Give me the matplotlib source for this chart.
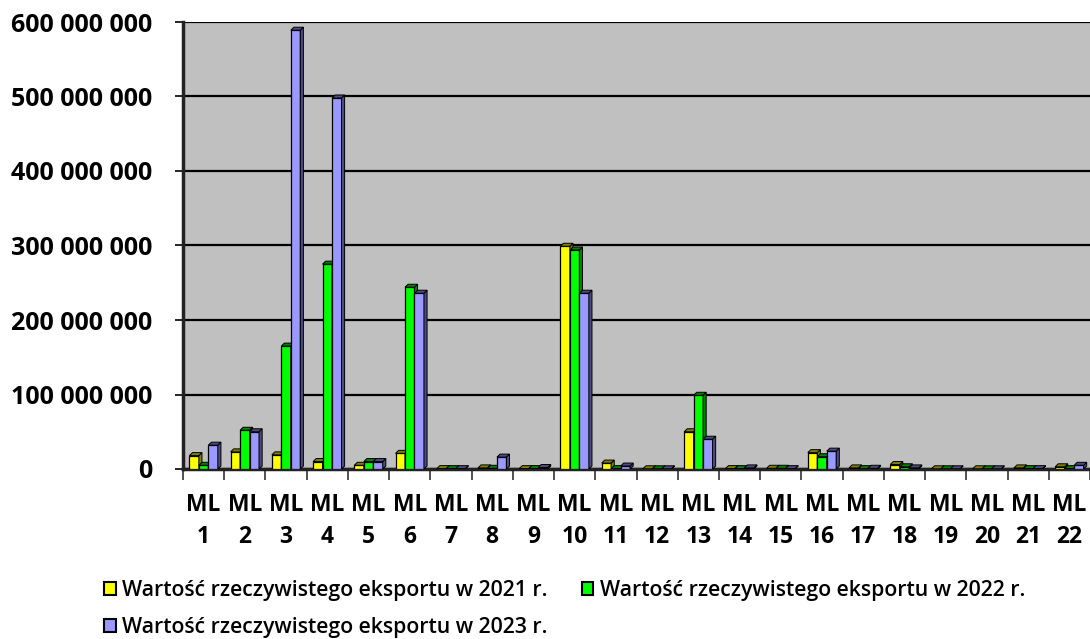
import matplotlib
matplotlib.use("Agg")
import matplotlib.pyplot as plt
from matplotlib.patches import Polygon, Patch
from matplotlib.ticker import FuncFormatter, FixedLocator
import numpy as np

categories = [f"ML\n{i}" for i in range(1, 23)]
v2021 = [18e6, 23e6, 19e6, 10e6, 5e6, 21e6, 0.5e6, 1.5e6, 0.5e6, 299e6, 8e6,
         0.3e6, 50e6, 0.5e6, 1e6, 22e6, 1.5e6, 6e6, 0.3e6, 0.3e6, 1.5e6, 3e6]
v2022 = [5e6, 52e6, 165e6, 275e6, 10e6, 244e6, 0.5e6, 1e6, 0.5e6, 294e6, 0.5e6,
         0.3e6, 99e6, 0.5e6, 1e6, 16.5e6, 0.5e6, 3e6, 0.3e6, 0.3e6, 0.5e6, 0.5e6]
v2023 = [32e6, 50e6, 589e6, 498e6, 10e6, 236e6, 0.5e6, 16e6, 2e6, 236e6, 4e6,
         0.3e6, 40e6, 1.5e6, 0.5e6, 24e6, 1e6, 1.5e6, 0.3e6, 0.3e6, 0.5e6, 5e6]
series_labels = ["Wartość rzeczywistego eksportu w 2021 r.",
                 "Wartość rzeczywistego eksportu w 2022 r.",
                 "Wartość rzeczywistego eksportu w 2023 r."]
yticks = [0, 100e6, 200e6, 300e6, 400e6, 500e6, 600e6]

colors = ["#FFFF00", "#00FF00", "#9999FF"]
dark = ["#808000", "#008000", "#4C4C80"]
FONT = "Open Sans"

fig = plt.figure(figsize=(10.9, 6.39), dpi=100)
ax = fig.add_axes([183/1090, 170/639, 1 - 183/1090, (469-22)/639])
ax.set_facecolor("#C0C0C0")

n = len(categories)
x = np.arange(n)
w = 0.23
dx = 0.075
dy = 4.0e6
for k, vals in enumerate([v2021, v2022, v2023]):
    pos = x + (k - 1) * w
    bars = ax.bar(pos, vals, width=w, color=colors[k], edgecolor="black",
                  linewidth=0.9, zorder=3)
    for b in bars:
        x0 = b.get_x(); bw = b.get_width(); h = b.get_height()
        top = Polygon([(x0, h), (x0 + dx, h + dy), (x0 + bw + dx, h + dy), (x0 + bw, h)],
                      closed=True, facecolor=dark[k], edgecolor="black", linewidth=0.7, zorder=3)
        side = Polygon([(x0 + bw, 0), (x0 + bw + dx, dy), (x0 + bw + dx, h + dy), (x0 + bw, h)],
                       closed=True, facecolor=dark[k], edgecolor="black", linewidth=0.7, zorder=3)
        ax.add_patch(side); ax.add_patch(top)

ax.set_xlim(-0.5, n - 0.5)
ax.set_ylim(0, 600e6)
ax.set_yticks(yticks)
ax.yaxis.set_major_formatter(FuncFormatter(lambda v, p: f"{int(v):,}".replace(",", " ")))
ax.grid(axis="y", color="black", linewidth=1.6, zorder=1)
ax.set_axisbelow(True)

ax.xaxis.set_major_locator(FixedLocator(np.arange(-0.5, n, 1.0)))
ax.xaxis.set_minor_locator(FixedLocator(x))
ax.set_xticklabels([], minor=False)
ax.set_xticklabels(categories, minor=True)
ax.tick_params(axis="x", which="major", length=8, width=1.2, color="#333333")
ax.tick_params(axis="x", which="minor", length=0, pad=17)
ax.tick_params(axis="y", length=6, width=1.2, pad=16)

for lab in ax.get_xticklabels(minor=True):
    lab.set_fontfamily(FONT); lab.set_fontweight("bold"); lab.set_fontsize(16.5)
    lab.set_linespacing(1.45)
for lab in ax.get_yticklabels():
    lab.set_fontfamily(FONT); lab.set_fontweight("bold"); lab.set_fontsize(18)

for s in ["top", "right"]:
    ax.spines[s].set_visible(False)
ax.spines["left"].set_linewidth(2.5)
ax.spines["left"].set_color("#222222")
ax.spines["bottom"].set_linewidth(2.5)
ax.spines["bottom"].set_color("#222222")
ax.axhline(600e6, color="black", linewidth=1.2, zorder=2)

handles = [Patch(facecolor=c, edgecolor="black", linewidth=1.5) for c in colors]
leg = fig.legend([handles[0], handles[2], handles[1]],
                 [series_labels[0], series_labels[2], series_labels[1]],
                 ncol=2, loc="upper left", bbox_to_anchor=(104/1090, 1 - 580/639),
                 frameon=False, prop={"family": FONT, "size": 15.3, "weight": "semibold"},
                 handlelength=0.55, handleheight=0.55, handletextpad=0.3,
                 columnspacing=1.6, labelspacing=0.75, borderpad=0, borderaxespad=0)

fig.savefig("out.png", dpi=100)
